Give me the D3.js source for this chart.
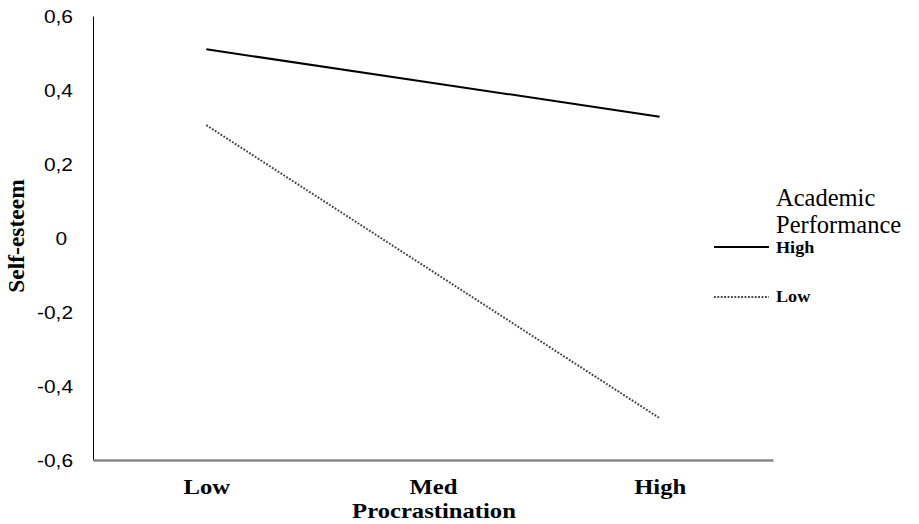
<!DOCTYPE html>
<html>
<head>
<meta charset="utf-8">
<script src="https://cdn.jsdelivr.net/npm/d3@7"></script>
<style>
  html, body { margin: 0; padding: 0; background: #fff; }
  svg { display: block; }
</style>
</head>
<body>
<svg id="chart" width="919" height="524"></svg>
<script>
// ---- Data ----
const categories = ["Low", "Med", "High"];
const highPerformance = [0.51, 0.419, 0.328];
const lowPerformance = [0.305, -0.091, -0.487];
const yTicks = [0.6, 0.4, 0.2, 0, -0.2, -0.4, -0.6];
const seriesNames = ["High", "Low"];
const legendTitle = ["Academic", "Performance"];
const xTitle = "Procrastination";
const yTitle = "Self-esteem";

const svg = d3.select("#chart");
const serif = "'Liberation Serif', 'Times New Roman', Times, serif";
const sans = "'Liberation Sans', Arial, Helvetica, sans-serif";

const plotLeft = 93, plotRight = 773, plotTop = 16, plotBottom = 460;

const x = d3.scalePoint().domain(categories).range([plotLeft, plotRight]).padding(0.5);
const y = d3.scaleLinear().domain([-0.6, 0.6]).range([plotBottom, plotTop]);

function stretch(sel, k) {
  sel.each(function () {
    const len = this.getComputedTextLength();
    d3.select(this).attr("textLength", len * k).attr("lengthAdjust", "spacingAndGlyphs");
  });
}

// Y axis
const yAxis = d3.axisLeft(y)
  .tickValues(yTicks)
  .tickSize(0)
  .tickPadding(20)
  .tickFormat(d => d === 0 ? "0" : d3.format(".1f")(d).replace(".", ",").replace("\u2212", "-"));
const gy = svg.append("g").attr("transform", `translate(${plotLeft},0)`).call(yAxis);
gy.select(".domain").attr("stroke", "#000").attr("stroke-width", 1);
gy.selectAll("text")
  .attr("font-family", sans)
  .attr("font-size", 19)
  .attr("fill", "#000")
  .attr("dx", d => d === 0 ? -6 : 0);
stretch(gy.selectAll("text"), 1.1);

// X axis
const xAxis = d3.axisBottom(x).tickSize(0).tickPadding(22);
const gx = svg.append("g").attr("transform", `translate(0,${plotBottom})`).call(xAxis);
gx.select(".domain").attr("stroke", "#878787").attr("stroke-width", 2.5);
gx.selectAll("text")
  .attr("font-family", serif)
  .attr("font-weight", "bold")
  .attr("font-size", 22)
  .attr("fill", "#000")
  .attr("dy", null)
  .attr("y", 34);
stretch(gx.selectAll("text"), 1.12);

// Axis titles
const xt = svg.append("text")
  .attr("x", 434).attr("y", 518)
  .attr("text-anchor", "middle")
  .attr("font-family", serif).attr("font-weight", "bold").attr("font-size", 22)
  .text(xTitle);
stretch(xt, 1.12);

svg.append("text")
  .attr("transform", "translate(24,236) rotate(-90)")
  .attr("text-anchor", "middle")
  .attr("font-family", serif).attr("font-weight", "bold").attr("font-size", 23.5)
  .text(yTitle);

// Lines
const line = d3.line().x((d, i) => x(categories[i])).y(d => y(d));
svg.append("path").datum(highPerformance)
  .attr("d", line).attr("fill", "none").attr("stroke", "#000").attr("stroke-width", 2);
svg.append("path").datum(lowPerformance)
  .attr("d", line).attr("fill", "none").attr("stroke", "#444")
  .attr("stroke-width", 2).attr("stroke-dasharray", "1.8 1.6");

// Legend
const lg = svg.append("g");
lg.selectAll("text.title").data(legendTitle).enter().append("text")
  .attr("class", "title")
  .attr("x", 776).attr("y", (d, i) => 206 + i * 27)
  .attr("font-family", serif).attr("font-size", 24.5).attr("fill", "#000")
  .text(d => d);

const legendItems = [
  { name: seriesNames[0], dash: null, stroke: "#000", ly: 247, ty: 253 },
  { name: seriesNames[1], dash: "1.8 1.6", stroke: "#444", ly: 297, ty: 302 }
];
legendItems.forEach(it => {
  lg.append("line")
    .attr("x1", 714).attr("x2", 769).attr("y1", it.ly).attr("y2", it.ly)
    .attr("stroke", it.stroke).attr("stroke-width", 2)
    .attr("stroke-dasharray", it.dash);
  const t = lg.append("text")
    .attr("x", 776).attr("y", it.ty)
    .attr("font-family", serif).attr("font-weight", "bold").attr("font-size", 16.5)
    .attr("fill", "#000")
    .text(it.name);
  stretch(t, 1.1);
});
</script>
</body>
</html>
